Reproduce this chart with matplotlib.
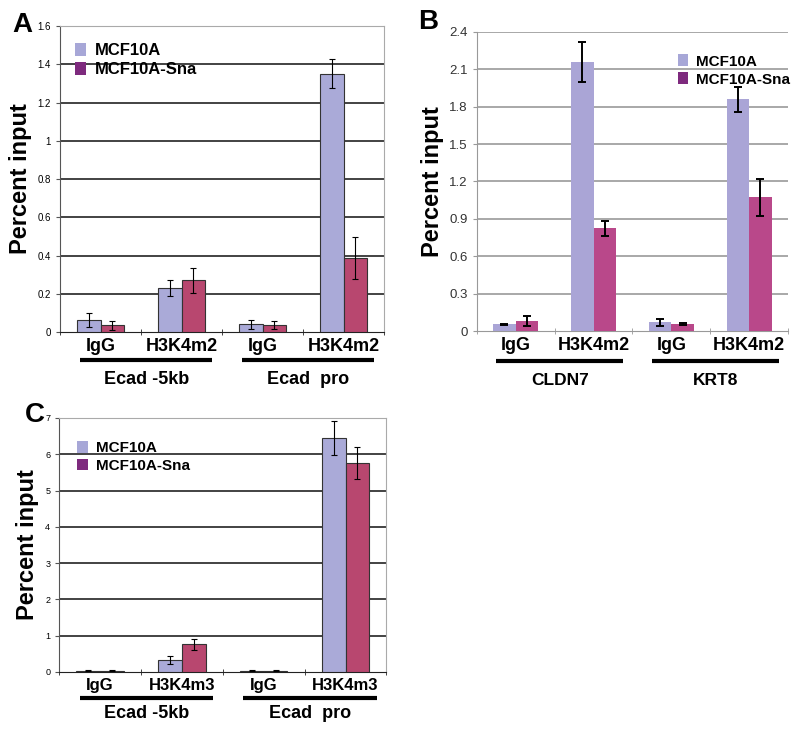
import matplotlib.pyplot as plt
import numpy as np
from matplotlib.patches import Patch

plt.rcParams['font.family'] = ['Liberation Sans', 'DejaVu Sans']

# Panel A: ChIP of H3K4m2 at E-cadherin
a_cats = ['IgG', 'H3K4m2', 'IgG', 'H3K4m2']
a_groups = ['Ecad -5kb', 'Ecad  pro']
a_mcf = [0.061, 0.232, 0.040, 1.351]
a_mcf_err = [0.036, 0.042, 0.022, 0.077]
a_sna = [0.035, 0.270, 0.038, 0.387]
a_sna_err = [0.023, 0.066, 0.022, 0.112]

# Panel B: CLDN7 / KRT8
b_cats = ['IgG', 'H3K4m2', 'IgG', 'H3K4m2']
b_groups = ['CLDN7', 'KRT8']
b_mcf = [0.055, 2.159, 0.070, 1.860]
b_mcf_err = [0.003, 0.159, 0.030, 0.101]
b_sna = [0.080, 0.823, 0.057, 1.072]
b_sna_err = [0.039, 0.060, 0.007, 0.145]

# Panel C: H3K4m3 at E-cadherin
c_cats = ['IgG', 'H3K4m3', 'IgG', 'H3K4m3']
c_groups = ['Ecad -5kb', 'Ecad  pro']
c_mcf = [0.04, 0.32, 0.04, 6.44]
c_mcf_err = [0.01, 0.11, 0.01, 0.47]
c_sna = [0.04, 0.76, 0.04, 5.76]
c_sna_err = [0.01, 0.145, 0.01, 0.435]

series = ['MCF10A', 'MCF10A-Sna']
legend_colors = ['#a7a7d7', '#7e2a7e']

fig = plt.figure(figsize=(8, 7.32), dpi=100)


def panel(rect, cats, groups, mcf, mcf_err, sna, sna_err, ymax, ystep, colors,
          excel2003=True, tick_fs=7, lab_fs=13, grp_fs=13, grp_weight='bold',
          leg_pos=(0.05, 0.94), leg_fs=12, ylab_fs=17, line_y=-0.09, grp_y=-0.15):
    ax = fig.add_axes(rect)
    x = np.arange(len(cats))
    w = 0.29
    ec = '#333333' if excel2003 else 'none'
    elw = 0.8 if excel2003 else 1.4
    cap = 2 if excel2003 else 3
    ax.bar(x - w / 2, mcf, w, color=colors[0], edgecolor=ec, linewidth=0.8,
           yerr=mcf_err, error_kw=dict(ecolor='black', elinewidth=elw, capsize=cap, capthick=elw), zorder=3)
    ax.bar(x + w / 2, sna, w, color=colors[1], edgecolor=ec, linewidth=0.8,
           yerr=sna_err, error_kw=dict(ecolor='black', elinewidth=elw, capsize=cap, capthick=elw), zorder=3)
    ax.set_xlim(-0.5, len(cats) - 0.5)
    ax.set_ylim(0, ymax)
    yt = np.arange(0, ymax + ystep / 2, ystep)
    ax.set_yticks(yt)
    if excel2003:
        ax.set_yticklabels(['%g' % v for v in yt])
        ax.spines['top'].set_color('#aaaaaa')
        ax.spines['right'].set_color('#aaaaaa')
        ax.spines['left'].set_color('#555555')
        ax.spines['bottom'].set_color('#222222')
        lab_color = 'black'
        for v in yt[1:-1]:
            ax.axhline(v, color='#222222', linewidth=1.2, zorder=1)
    else:
        ax.set_yticklabels([('%.1f' % v) if v != 0 else '0' for v in yt])
        for s in ['top', 'right']:
            ax.spines[s].set_visible(False)
        ax.spines['left'].set_color('#999999')
        ax.spines['bottom'].set_color('#999999')
        lab_color = '#333333'
        for v in yt[1:]:
            ax.axhline(v, color='#999999', linewidth=1.2, zorder=1)
    ax.set_xticks(x)
    ax.set_xticklabels(cats, fontsize=lab_fs, fontweight='bold')
    ax.tick_params(axis='x', which='major', length=0, pad=4)
    ax.set_xticks(np.arange(-0.5, len(cats)), minor=True)
    ax.tick_params(axis='x', which='minor', length=5, direction='inout',
                   color=ax.spines['bottom'].get_edgecolor())
    ax.tick_params(axis='y', labelsize=tick_fs, length=3, labelcolor=lab_color,
                   color=ax.spines['left'].get_edgecolor())
    ax.set_ylabel('Percent input', fontsize=ylab_fs, fontweight='bold', labelpad=4)

    # group underlines and labels
    tr = ax.get_xaxis_transform()
    for i, g in enumerate(groups):
        x0 = 2 * i - 0.25
        x1 = 2 * i + 1.38
        ax.plot([x0, x1], [line_y, line_y], color='black', linewidth=3,
                transform=tr, clip_on=False, solid_capstyle='butt')
        ax.text((x0 + x1) / 2, grp_y, g, transform=tr, ha='center', va='center',
                fontsize=grp_fs, fontweight=grp_weight)

    handles = [Patch(facecolor=c, edgecolor='none') for c in legend_colors]
    ax.legend(handles, series, loc='upper left', bbox_to_anchor=leg_pos,
              frameon=False, prop=dict(size=leg_fs, weight='bold'),
              handlelength=0.7, handleheight=0.8, handletextpad=0.5,
              borderaxespad=0, borderpad=0, labelspacing=0.25)
    return ax


ax_a = panel([0.075, 0.5464, 0.405, 0.418], a_cats, a_groups, a_mcf, a_mcf_err,
             a_sna, a_sna_err, 1.6, 0.2, ['#aaaad8', '#b8476f'],
             tick_fs=7, leg_pos=(0.045, 0.945), line_y=-0.092, grp_y=-0.155)

ax_b = panel([0.596, 0.5478, 0.389, 0.4085], b_cats, b_groups, b_mcf, b_mcf_err,
             b_sna, b_sna_err, 2.4, 0.3, ['#aaa5d6', '#b9488a'], excel2003=False,
             tick_fs=9.5, grp_fs=12.5, leg_pos=(0.645, 0.925), leg_fs=11,
             line_y=-0.1, grp_y=-0.165)

ax_c = panel([0.074, 0.082, 0.409, 0.347], c_cats, c_groups, c_mcf, c_mcf_err,
             c_sna, c_sna_err, 7, 1, ['#aaaad8', '#b8476f'],
             tick_fs=6.5, lab_fs=12, leg_pos=(0.055, 0.91), leg_fs=11,
             line_y=-0.104, grp_y=-0.165)

fig.text(0.028, 0.966, 'A', fontsize=20, fontweight='bold', ha='center', va='center')
fig.text(0.535, 0.970, 'B', fontsize=20, fontweight='bold', ha='center', va='center')
fig.text(0.044, 0.433, 'C', fontsize=20, fontweight='bold', ha='center', va='center')

fig.savefig('out.png', dpi=100)
